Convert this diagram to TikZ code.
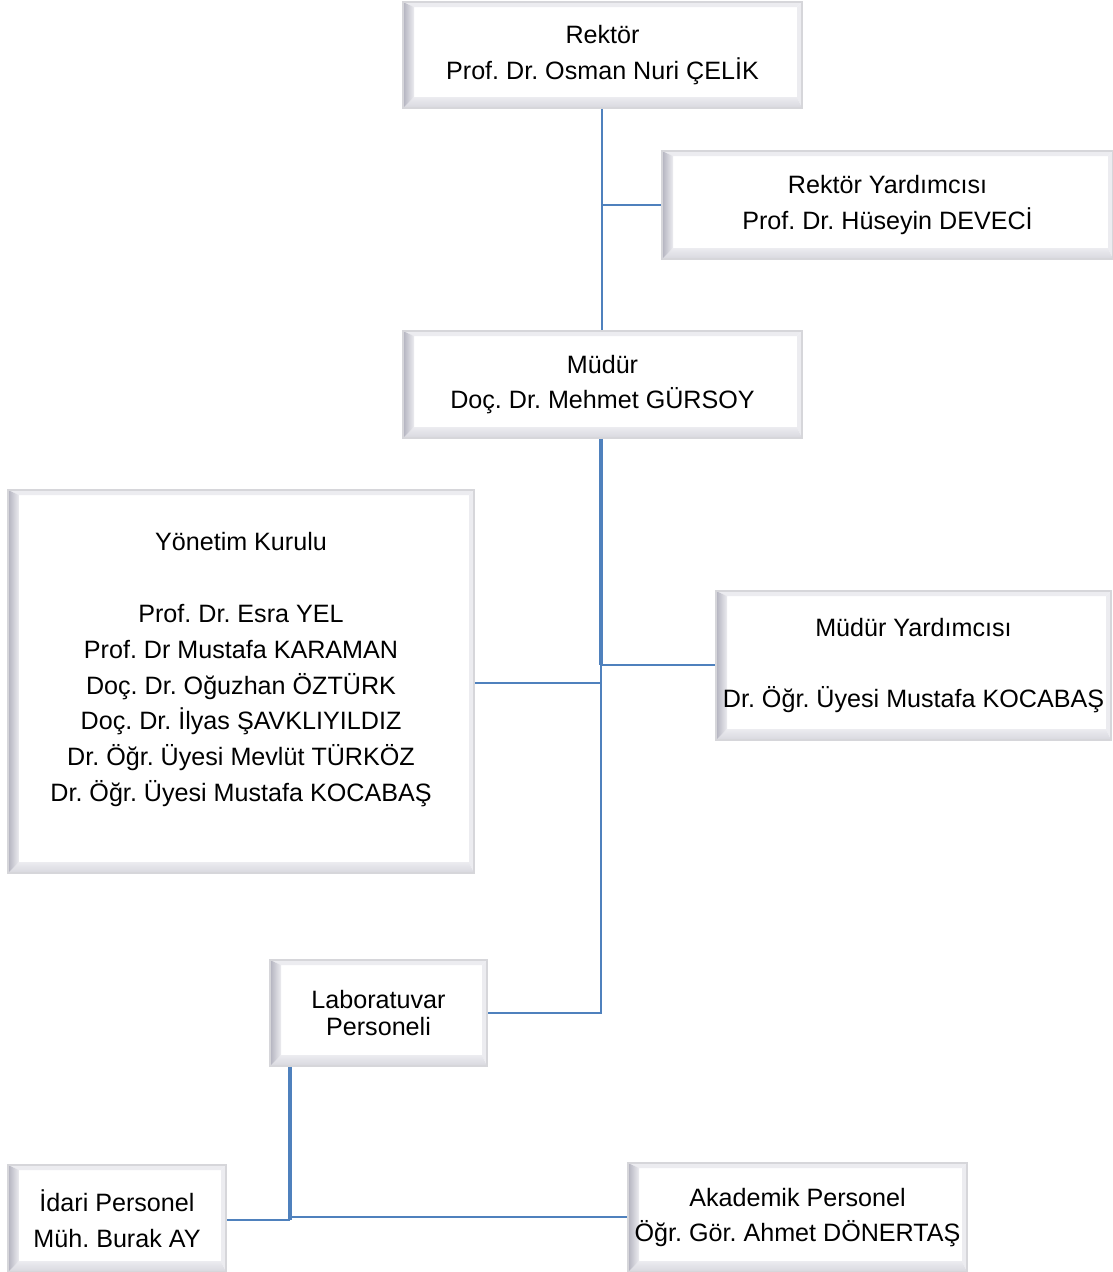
\documentclass[tikz,border=0pt]{standalone}
\usepackage{fontspec}
\setmainfont{Liberation Sans}
\frenchspacing
\usetikzlibrary{calc}
\definecolor{linkblue}{RGB}{79,129,189}
\definecolor{bordergray}{RGB}{214,214,218}
\definecolor{bevdark}{RGB}{178,178,190}
\definecolor{bevmid}{RGB}{215,215,222}
\definecolor{bevlight}{RGB}{236,236,240}
\begin{document}
\begin{tikzpicture}[x=0.02cm,y=-0.02cm]
\tikzset{
  orgbox/.style 2 args={draw=bordergray, line width=1.1pt, fill=white,
    minimum width=#1*0.02cm, minimum height=#2*0.02cm, inner sep=0pt,
    align=center, font=\fontsize{14.3}{20.4}\selectfont\frenchspacing,
    path picture={
      \coordinate (bsw) at (path picture bounding box.south west);
      \coordinate (bne) at (path picture bounding box.north east);
      \coordinate (bnw) at (bsw|-bne);
      \coordinate (bse) at (bne|-bsw);
      \coordinate (isw) at ([shift={(0.22cm,0.22cm)}]bsw);
      \coordinate (ine) at ([shift={(-0.1cm,-0.1cm)}]bne);
      \coordinate (inw) at (isw|-ine);
      \coordinate (ise) at (ine|-isw);
      \fill[bevlight] (bnw) -- (bne) -- (ine) -- (inw) -- cycle;
      \fill[bevlight] (bne) -- (bse) -- (ise) -- (ine) -- cycle;
      \shade[top color=bevlight, bottom color=bevmid] (bsw) -- (isw) -- (ise) -- (bse) -- cycle;
      \shade[left color=bevdark, right color=bevlight] (bsw) -- (bnw) -- (inw) -- (isw) -- cycle;
    }},
  thinlink/.style={draw=linkblue, line width=0.9pt},
  thicklink/.style={draw=linkblue, line width=2pt}
}
\useasboundingbox (0,0) rectangle (1113,1272);

\node[orgbox={399}{106}] (rek) at (602.5,55) {Rektör\\Prof. Dr. Osman Nuri ÇELİK};
\node[orgbox={451}{108}] (ry) at (887.5,205) {Rektör Yardımcısı\\Prof. Dr. Hüseyin DEVECİ};
\node[orgbox={399}{107}] (mud) at (602.5,384.5) {Müdür\\Doç. Dr. Mehmet GÜRSOY};
\node[orgbox={466}{383}] (yk) at (241,681.5) {Yönetim Kurulu\\~\\Prof. Dr. Esra YEL\\Prof. Dr Mustafa KARAMAN\\Doç. Dr. Oğuzhan ÖZTÜRK\\Doç. Dr. İlyas ŞAVKLIYILDIZ\\Dr. Öğr. Üyesi Mevlüt TÜRKÖZ\\Dr. Öğr. Üyesi Mustafa KOCABAŞ\\[-4pt]\mbox{}};
\node[orgbox={395}{149}] (my) at (913.5,665.5) {Müdür Yardımcısı\\~\\Dr. Öğr. Üyesi Mustafa KOCABAŞ};
\node[orgbox={217}{106}, font=\fontsize{14.3}{15.3}\selectfont\frenchspacing] (lab) at (378.5,1013) {Laboratuvar\\Personeli};
\node[orgbox={218}{107}] (idari) at (117,1218.5) {İdari Personel\\Müh. Burak AY};
\node[orgbox={339}{109}] (akad) at (797.5,1217.5) {Akademik Personel\\Öğr. Gör. Ahmet DÖNERTAŞ};

\coordinate (j1) at (602,205);
\coordinate (j2) at (601,665);
\coordinate (j3) at (601,683);
\coordinate (j4) at (601,1013);
\coordinate (j5) at (290,1068);
\coordinate (j6) at (290,1220);
\coordinate (j7) at (290,1217);

\draw[thinlink] (rek.south -| j1) -- (mud.north -| j1);
\draw[thinlink] (j1) -- (ry.west |- j1);
\draw[thicklink] (mud.south -| j2) -- (j2);
\draw[thinlink] (j2) -- (j4) -- (lab.east |- j4);
\draw[thinlink] (j2) -- (my.west |- j2);
\draw[thinlink] (j3) -- (yk.east |- j3);
\draw[thicklink] (lab.south -| j5) -- (j6);
\draw[thinlink, line width=1.3pt] (j6) -- (idari.east |- j6);
\draw[thinlink] (j7) -- (akad.west |- j7);
\end{tikzpicture}
\end{document}
